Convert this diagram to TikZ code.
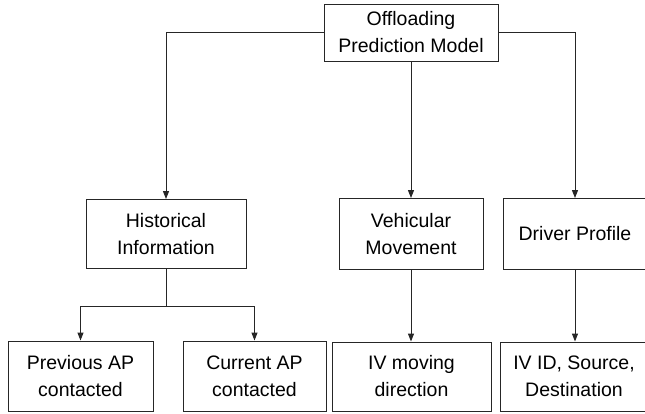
\documentclass[tikz,border=0pt]{standalone}
\usepackage{fontspec}
\setmainfont{Liberation Sans}
\usetikzlibrary{arrows.meta}
\begin{document}
\begin{tikzpicture}[x=1pt,y=-1pt,
  box/.style={draw=black!85,line width=0.9pt,inner sep=0pt,align=center,
    font=\fontsize{19.5}{27}\selectfont},
  conn/.style={draw=black!85,line width=1pt,-{Triangle[length=8pt,width=6pt]}},
  plain/.style={draw=black!85,line width=1pt}]
\useasboundingbox (0,0) rectangle (645,414);
\node[box,minimum width=174pt,minimum height=57pt] (top) at (411,32.5) {Offloading\\Prediction Model};
\node[box,minimum width=160pt,minimum height=69pt] (hist) at (166,234) {Historical\\Information};
\node[box,minimum width=144pt,minimum height=71pt] (veh) at (411,234) {Vehicular\\Movement};
\node[box,minimum width=144pt,minimum height=71pt] (drv) at (575,234) {Driver Profile};
\node[box,minimum width=145pt,minimum height=70pt] (prev) at (80.5,376) {Previous AP\\contacted};
\node[box,minimum width=143pt,minimum height=70pt] (cur) at (254.5,376) {Current AP\\contacted};
\node[box,minimum width=159pt,minimum height=69pt] (mov) at (411.5,376.5) {IV moving\\direction};
\node[box,minimum width=148pt,minimum height=69pt] (ivid) at (574,376.5) {IV ID, Source,\\Destination};
\draw[conn] (top.west) -| (hist.north);
\draw[conn] (top.south) -- (veh.north);
\draw[conn] (top.east) -| (drv.north);
\coordinate (j) at ([yshift=-38pt]hist.south);
\draw[plain] (hist.south) -- (j);
\draw[conn] (j) -| (prev.north);
\draw[conn] (j) -| (cur.north);
\draw[conn] (veh.south) -- (veh.south |- mov.north);
\draw[conn] (drv.south) -- (drv.south |- ivid.north);
\end{tikzpicture}
\end{document}
